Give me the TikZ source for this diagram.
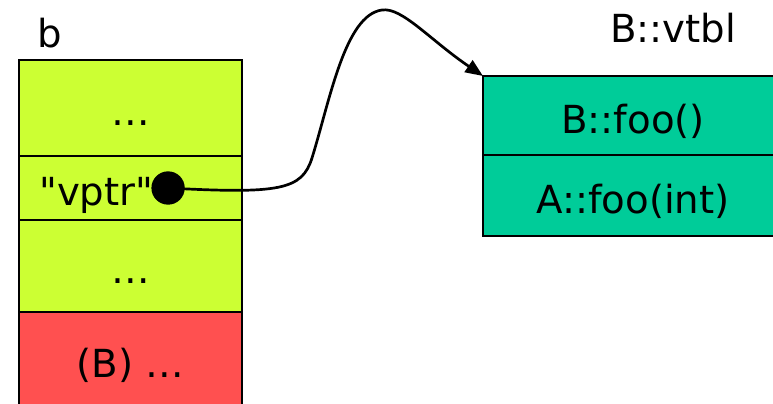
\documentclass[tikz,border=0pt]{standalone}
\usepackage{fontspec}
\setmainfont{DejaVu Sans}
\usepackage{tikz}
\usetikzlibrary{arrows.meta, positioning}

\definecolor{objgreen}{RGB}{204,255,51}
\definecolor{objred}{RGB}{255,80,80}
\definecolor{vtblgreen}{RGB}{0,204,153}

\begin{document}
\begin{tikzpicture}[
    x=0.03cm, y=-0.03cm,
    font=\fontsize{33}{40}\selectfont,
    cell/.style={rectangle, draw=black, line width=1.9pt, minimum width=6.69cm, inner sep=0pt, outer sep=0pt, text height=30pt, text depth=0pt, fill=objgreen},
    slot/.style={cell, fill=vtblgreen, minimum width=9cm},
    label/.style={inner sep=0pt, text height=30pt, text depth=0pt},
    dot/.style={circle, fill=black, minimum size=1cm, inner sep=0pt},
    arrow/.style={line width=2.3pt, -{Triangle[length=15pt, width=12pt]}}
]
\useasboundingbox (0,0) rectangle (773,404);
\clip (0,0) rectangle (773,404);
% object b
\node (top) [cell, minimum height=2.88cm, anchor=north west] at (19,60) {…};
\node (vptr) [cell, minimum height=1.92cm, below=0pt of top] {};
\node (rest) [cell, minimum height=2.76cm, below=0pt of vptr] {…};
\node (base) [cell, fill=objred, minimum height=2.88cm, below=0pt of rest] {(B) …};
\node (vptrlabel) [label, anchor=west] at ([xshift=0.6cm]vptr.west) {\textquotedbl vptr\textquotedbl};
\node (ptr) [dot, right=-2pt of vptrlabel] {};
\node (bname) [anchor=base west, inner sep=0pt] at (37,48) {b};
% vtable of B
\node (bfoo) [slot, minimum height=2.37cm, anchor=north west] at (483,76) {B::foo()};
\node (afoo) [slot, minimum height=2.43cm, below=0pt of bfoo] {A::foo(int)};
\node (vtblname) [anchor=base, inner sep=0pt] at (673,43) {B::vtbl};
\draw [arrow] (ptr.center) .. controls (280,194) and (302,190) .. (312,158)
    .. controls (330,100) and (345,15) .. (382,10)
    .. controls (402,7) and (430,40) .. (bfoo.north west);
\end{tikzpicture}
\end{document}
